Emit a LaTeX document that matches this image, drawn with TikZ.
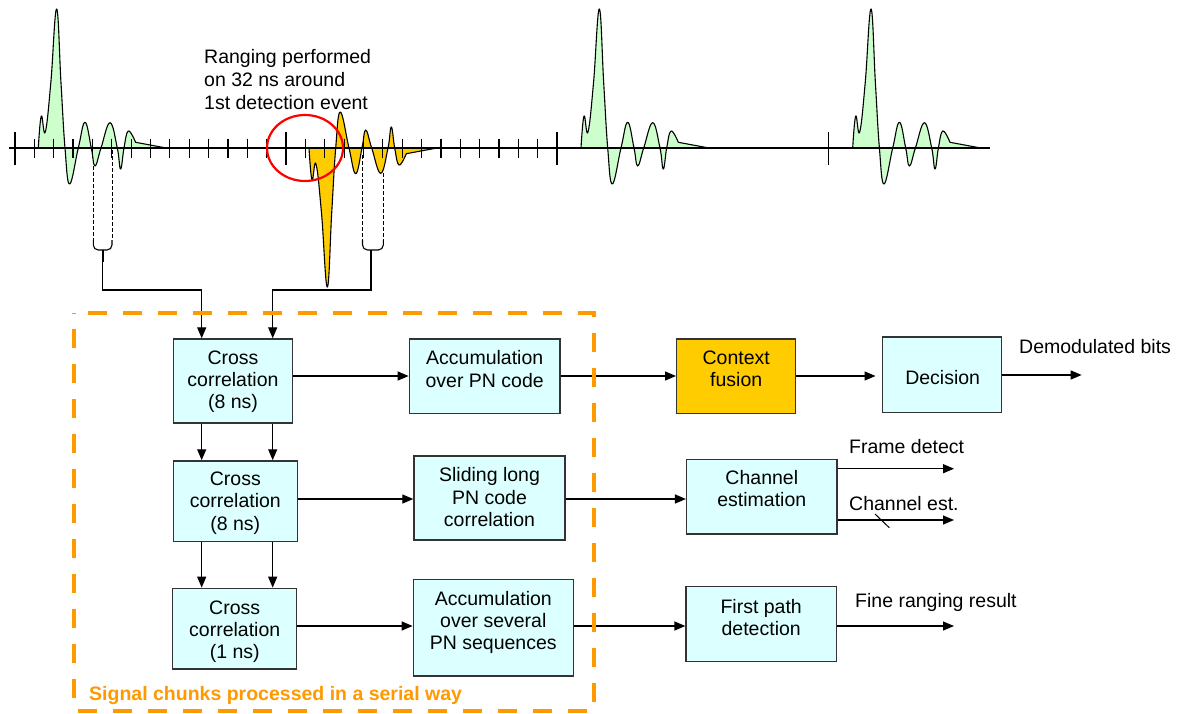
\documentclass[tikz,border=0pt]{standalone}
\usepackage{fontspec}
\setmainfont{Liberation Sans}
\usetikzlibrary{arrows.meta}

\definecolor{boxcyan}{HTML}{DCFFFF}
\definecolor{pulsegreen}{HTML}{CCFFCC}
\definecolor{gold}{HTML}{FFCC00}
\definecolor{chunkorange}{HTML}{FF9900}

% one received UWB pulse, drawn from its start on the time axis
\newcommand\uwbpulse[2]{%
  \begin{scope}[#1]
    \filldraw[fill=#2, line width=1.1pt, line join=round]
      plot[smooth, tension=0.7] coordinates {(0,0) (3,32) (7,16) (12.5,65) (18.3,139)
        (22.7,65) (26.7,0) (31.3,-36) (40,0) (46.7,25.7) (53,0) (56.7,-18) (62.7,0)
        (71.7,25.3) (79,0) (82.3,-21) (85.7,0) (90,17) (97.3,5.7)}
      -- (128,0) -- cycle;
  \end{scope}}

\begin{document}
\begin{tikzpicture}[x=1pt, y=-1pt,
  font=\fontsize{19.5pt}{22.3pt}\selectfont,
  blk/.style={draw=black!80, line width=1.4pt, fill=boxcyan, inner sep=0pt},
  txt/.style={inner sep=0pt, align=center, anchor=north},
  lbl/.style={inner sep=0pt, anchor=base west},
  link/.style={line width=1.3pt},
  arr/.style={-{Triangle[length=11pt,width=9pt]}},
  guide/.style={line width=1pt, dash pattern=on 3.5pt off 2.5pt},
  tickmark/.style={line width=1.2pt}]

\fill[white] (0,0) rectangle (1178,713);
\useasboundingbox (0,0) rectangle (1178,713);

% ---------- received signal ----------
\uwbpulse{shift={(38.3,148)}, yscale=-1}{pulsegreen}
\uwbpulse{shift={(309,148)}}{gold}
\uwbpulse{shift={(581,148)}, yscale=-1}{pulsegreen}
\uwbpulse{shift={(852.7,148)}, yscale=-1}{pulsegreen}

\draw[line width=1.4pt] (9,148) -- (990,148);
\foreach \i in {1,...,13,15,16,...,27}
  \draw[tickmark] (15+19.36*\i,138.5) -- ++(0,19);
\foreach \i in {0,14,28,42}
  \draw[tickmark] (15+19.36*\i,132) -- ++(0,33);

\draw[red, line width=2.2pt] (305,148) ellipse [x radius=38, y radius=33];

\node[inner sep=0pt, anchor=north west, align=left,
      font=\fontsize{19.5pt}{22.8pt}\selectfont] (note) at (204,49.3)
  {Ranging performed\\on 32 ns around\\1st detection event};

% ---------- processing blocks ----------
\node[blk, minimum width=119.4pt, minimum height=84pt]   (cc1)  at (233,381) {};
\node[blk, minimum width=150.7pt, minimum height=74.7pt] (acc1) at (484.7,376.3) {};
\node[blk, fill=gold, minimum width=119pt, minimum height=74.7pt] (ctx) at (736.2,376.3) {};
\node[blk, minimum width=119pt, minimum height=75.3pt]   (dec)  at (942.2,374.7) {};
\node[blk, minimum width=124pt, minimum height=80.7pt]   (cc2)  at (235.3,501.3) {};
\node[blk, minimum width=151pt, minimum height=84pt]     (sld)  at (489.5,498) {};
\node[blk, minimum width=150.3pt, minimum height=74.7pt] (che)  at (761.8,496.7) {};
\node[blk, minimum width=124pt, minimum height=80.7pt]   (cc3)  at (234.7,628.7) {};
\node[blk, minimum width=160pt, minimum height=96.7pt]   (acc3) at (493.3,627.7) {};
\node[blk, minimum width=150.3pt, minimum height=75pt]   (fpd)  at (761.2,624.2) {};

\node[txt] (cc1t)  at (233,350.5)   {Cross\\correlation\\(8 ns)};
\node[txt] (acc1t) at (484.7,350.5) {Accumulation\\over PN code};
\node[txt] (ctxt)  at (736.2,350.5) {Context\\fusion};
\node[inner sep=0pt, anchor=base] (dect) at (942.7,384.3) {Decision};
\node[txt] (cc2t)  at (235.3,471.7) {Cross\\correlation\\(8 ns)};
\node[txt] (sldt)  at (489.5,467.5) {Sliding long\\PN code\\correlation};
\node[txt] (chet)  at (761.8,470)   {Channel\\estimation};
\node[txt] (cc3t)  at (234.7,600.5) {Cross\\correlation\\(1 ns)};
\node[txt] (acc3t) at (493.3,591)   {Accumulation\\over several\\PN sequences};
\node[txt] (fpdt)  at (761.2,599)   {First path\\detection};

\node[lbl] (demod) at (1019,353.3) {Demodulated bits};
\node[lbl] (frame) at (849,453)    {Frame detect};
\node[lbl] (chest) at (849,510)    {Channel est.};
\node[lbl] (fine)  at (855,607.3)  {Fine ranging result};

% ---------- signal chunks taken from the pulses ----------
\coordinate (gA) at (93.3,166);  \coordinate (gB) at (112,150);
\coordinate (oA) at (362.5,155); \coordinate (oB) at (383.3,173);
\coordinate (brL) at (102.5,250); \coordinate (brR) at (371,250);
\coordinate (xa) at (201.7,0);    \coordinate (xb) at (272.7,0);

\draw[guide] (gA) -- (gA |- 0,240);
\draw[guide] (gB) -- (gB |- 0,240);
\draw[guide] (oA) -- (oA |- 0,240);
\draw[guide] (oB) -- (oB |- 0,240);
\draw[line width=1.1pt, rounded corners=5pt] (93.3,240) -- (93.3,250) -- (112,250) -- (112,240);
\draw[line width=1.1pt, rounded corners=5pt] (362.5,240) -- (362.5,250) -- (383.3,250) -- (383.3,240);
\draw[line width=2pt] (brL) -- ++(0,12);
\draw[line width=2pt] (brR) -- ++(0,12);
\draw[link, arr] (102.5,261) -- (102.5,290) -| (xa |- cc1.north);
\draw[link, arr] (371,261) -- (371,290) -| (xb |- cc1.north);

\draw[link, arr] (xa |- cc1.south) -- (xa |- cc2.north);
\draw[link, arr] (xb |- cc1.south) -- (xb |- cc2.north);
\draw[link, arr] (xa |- cc2.south) -- (xa |- cc3.north);
\draw[link, arr] (xb |- cc2.south) -- (xb |- cc3.north);

% ---------- horizontal flow ----------
\coordinate (r1) at (0,376);   \coordinate (r1b) at (0,375);
\coordinate (r2) at (0,499);   \coordinate (r2a) at (0,468.7); \coordinate (r2b) at (0,520);
\coordinate (r3) at (0,626);
\coordinate (demodEnd) at (1081.7,375);
\coordinate (frameEnd) at (954,468.7);
\coordinate (chestEnd) at (954,520);
\coordinate (fineEnd)  at (954,626);

\draw[link, arr] (cc1.east |- r1) -- (acc1.west |- r1);
\draw[link, arr] (acc1.east |- r1) -- (ctx.west |- r1);
\draw[link, arr, shorten >=6.5pt] (ctx.east |- r1) -- (dec.west |- r1);
\draw[link, arr] (dec.east |- r1b) -- (demodEnd);

\draw[link, arr] (cc2.east |- r2) -- (sld.west |- r2);
\draw[link, arr] (sld.east |- r2) -- (che.west |- r2);
\draw[link, arr] (che.east |- r2a) -- (frameEnd);
\draw[link, arr] (che.east |- r2b) -- (chestEnd);
\draw[line width=1pt] (875,514) -- (889.3,527.7);

\draw[link, arr] (cc3.east |- r3) -- (acc3.west |- r3);
\draw[link, arr] (acc3.east |- r3) -- (fpd.west |- r3);
\draw[link, arr] (fpd.east |- r3) -- (fineEnd);

% ---------- serial processing frame ----------
\draw[chunkorange, line width=4pt, dash pattern=on 19pt off 16pt, dash phase=21pt]
  (74.4,313) -- (593.5,313) -- (593.5,711) -- (74.4,711) -- cycle;
\node[lbl, text=chunkorange, font=\bfseries\fontsize{19.5pt}{22.3pt}\selectfont] (serial)
  at (89,700) {Signal chunks processed in a serial way};

\end{tikzpicture}
\end{document}
